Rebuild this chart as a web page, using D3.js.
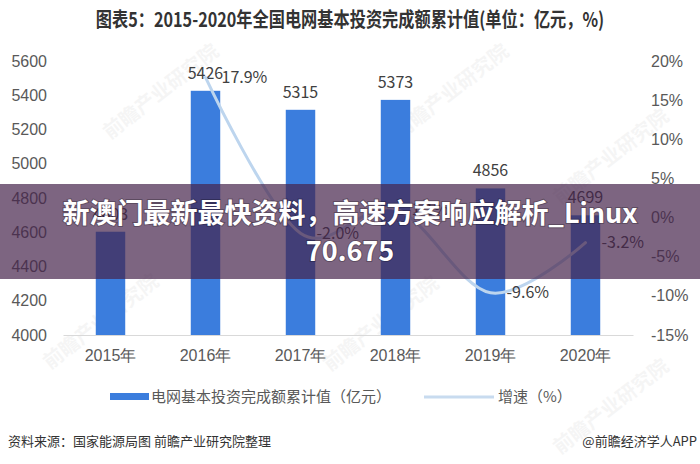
<!DOCTYPE html>
<html>
<head>
<meta charset="utf-8">
<script src="https://cdn.jsdelivr.net/npm/d3@7"></script>
<style>
  body { margin: 0; background: #fff; }
  svg { display: block; font-family: "Noto Sans CJK SC", "Noto Sans", sans-serif; }
  .axis text { fill: #595959; font-size: 16px; }
  .axis .domain { stroke: #d9d9d9; }
</style>
</head>
<body>
<div id="chart"></div>
<script>
const years = ["2015年", "2016年", "2017年", "2018年", "2019年", "2020年"];
const investment = [4603, 5426, 5315, 5373, 4856, 4699];
const growthYears = ["2016年", "2017年", "2018年", "2019年", "2020年"];
const growth = [17.9, -2.0, 1.1, -9.6, -3.2];
const leftTicks = [4000, 4200, 4400, 4600, 4800, 5000, 5200, 5400, 5600];
const rightTicks = [-15, -10, -5, 0, 5, 10, 15, 20];

const width = 700, height = 464;
const plot = { left: 63, right: 633, top: 61, bottom: 335 };

const svg = d3.select("#chart").append("svg")
  .attr("width", width)
  .attr("height", height);

svg.append("rect").attr("width", width).attr("height", height).attr("fill", "#fff");

// title (condensed look)
svg.append("text")
  .attr("transform", "translate(350,27)scale(0.81,1)")
  .attr("text-anchor", "middle")
  .attr("font-size", 20).attr("font-weight", 700)
  .attr("fill", "#333")
  .text("图表5：2015-2020年全国电网基本投资完成额累计值(单位：亿元，%)");

// faint watermarks
const marks = [[110, 140], [400, 140], [560, 205], [50, 370], [330, 372], [560, 455]];
svg.append("g").selectAll("text").data(marks).join("text")
  .attr("transform", d => `translate(${d[0]},${d[1]})rotate(-38)`)
  .attr("font-size", 20).attr("font-weight", 700)
  .attr("fill", "#000").attr("opacity", 0.035)
  .text("前瞻产业研究院");

const scale = {};
scale.x = d3.scaleBand().domain(years).range([plot.left, plot.right])
  .paddingInner(0.69).paddingOuter(0.345);
scale.y = d3.scaleLinear().domain([4000, 5600]).range([plot.bottom, plot.top]);
scale.y2 = d3.scaleLinear().domain([-15, 20]).range([plot.bottom, plot.top]);

// axes
const yAxis = d3.axisLeft(scale.y).tickValues(leftTicks).tickSize(0).tickPadding(3)
  .tickFormat(d3.format("d"));
svg.append("g").attr("class", "axis y").attr("transform", "translate(50,0)").call(yAxis)
  .select(".domain").remove();

const y2Axis = d3.axisRight(scale.y2).tickValues(rightTicks).tickSize(0).tickPadding(4)
  .tickFormat(d => d + "%");
svg.append("g").attr("class", "axis y2").attr("transform", "translate(647,0)").call(y2Axis)
  .select(".domain").remove();

const xAxis = d3.axisBottom(scale.x).tickSize(0).tickSizeOuter(0).tickPadding(15);
svg.append("g").attr("class", "axis x").attr("transform", `translate(0,${plot.bottom})`).call(xAxis);

// bars
const bars = years.map((y, i) => ({ year: y, value: investment[i] }));
svg.append("g").selectAll("rect").data(bars).join("rect")
  .attr("x", d => scale.x(d.year))
  .attr("width", scale.x.bandwidth())
  .attr("y", d => scale.y(d.value))
  .attr("height", d => plot.bottom - scale.y(d.value))
  .attr("fill", "#3b7ddd");

svg.append("g").selectAll("text").data(bars).join("text")
  .attr("x", d => scale.x(d.year) + scale.x.bandwidth() / 2)
  .attr("y", d => scale.y(d.value) - 12)
  .attr("text-anchor", "middle")
  .attr("font-size", 16).attr("fill", "#404040")
  .text(d => d.value);

// growth line
const pts = growthYears.map((y, i) => ({
  x: scale.x(y) + scale.x.bandwidth() / 2,
  y: scale.y2(growth[i]),
  v: growth[i]
}));
const line = d3.line().x(d => d.x).y(d => d.y).curve(d3.curveCardinal.tension(0));
svg.append("path").datum(pts)
  .attr("d", line)
  .attr("fill", "none")
  .attr("stroke", "#bdd5ee")
  .attr("stroke-width", 3)
  .attr("stroke-linecap", "round");

svg.append("g").selectAll("text").data(pts).join("text")
  .attr("x", d => d.x + 16)
  .attr("y", d => d.y)
  .attr("dy", "0.35em")
  .attr("font-size", 16).attr("fill", "#404040")
  .text(d => d.v.toFixed(1) + "%");

// legend
const legend = svg.append("g").attr("font-size", 15).attr("fill", "#595959");
legend.append("rect").attr("x", 110).attr("y", 393).attr("width", 39).attr("height", 7).attr("fill", "#3b7ddd");
legend.append("text").attr("x", 151).attr("y", 397).attr("dy", "0.35em").text("电网基本投资完成额累计值（亿元）");
legend.append("line").attr("x1", 424).attr("x2", 494).attr("y1", 397).attr("y2", 397)
  .attr("stroke", "#c8dbef").attr("stroke-width", 3);
legend.append("text").attr("x", 498).attr("y", 397).attr("dy", "0.35em").text("增速（%）");

// footer
svg.append("text").attr("x", 8).attr("y", 446).attr("font-size", 13).attr("fill", "#333")
  .text("资料来源：国家能源局图 前瞻产业研究院整理");
svg.append("text").attr("x", 697).attr("y", 446).attr("text-anchor", "end")
  .attr("font-size", 13).attr("fill", "#333")
  .text("@前瞻经济学人APP");

// overlay banner
svg.append("rect").attr("x", 0).attr("y", 184).attr("width", width).attr("height", 95)
  .attr("fill", "rgb(70,35,75)").attr("opacity", 0.7);
const banner = svg.append("g").attr("font-size", 27).attr("font-weight", 700)
  .attr("fill", "#fff").attr("text-anchor", "middle")
  .style("paint-order", "stroke").attr("stroke", "rgba(0,0,0,0.25)").attr("stroke-width", 2);
banner.append("text").attr("x", 350).attr("y", 214).attr("dy", "0.35em")
  .text("新澳门最新最快资料，高速方案响应解析_Linux");
banner.append("text").attr("x", 350).attr("y", 252).attr("dy", "0.35em")
  .text("70.675");
</script>
</body>
</html>
